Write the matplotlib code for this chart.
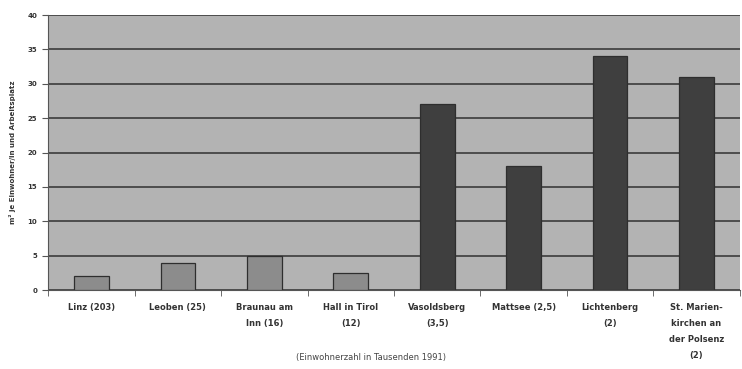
import matplotlib
matplotlib.use("Agg")
import matplotlib.pyplot as plt
import numpy as np

categories = ["Linz (203)", "Leoben (25)", "Braunau am\nInn (16)", "Hall in Tirol\n(12)",
              "Vasoldsberg\n(3,5)", "Mattsee (2,5)", "Lichtenberg\n(2)",
              "St. Marien-\nkirchen an\nder Polsenz\n(2)"]
values = [2, 4, 5, 2.5, 27, 18, 34, 31]
groups = ["urban", "urban", "urban", "urban", "rural", "rural", "rural", "rural"]
y_ticks = [0, 5, 10, 15, 20, 25, 30, 35, 40]

fill = {"urban": "#8c8c8c", "rural": "#3f3f3f"}

fig = plt.figure(figsize=(7.42, 3.69), dpi=100)
ax = fig.add_axes([0.065, 0.214, 0.932, 0.745])
ax.set_facecolor("#b3b3b3")

x = np.arange(len(categories))
ax.bar(x, values, width=0.4, color=[fill[g] for g in groups],
       edgecolor="#2e2e2e", linewidth=0.9, zorder=3)

ax.set_ylim(0, 40)
ax.set_xlim(-0.5, len(categories) - 0.5)
ax.set_yticks(y_ticks)
ax.set_yticklabels([str(t) for t in y_ticks], fontsize=5, fontweight="bold", color="#333333")
ax.yaxis.grid(True, color="#4d4d4d", linewidth=1.4, zorder=1)
ax.set_axisbelow(True)

ax.set_xticks(x)
ax.set_xticklabels(categories, fontsize=6, fontweight="bold", color="#333333",
                   linespacing=2.0)
ax.tick_params(axis="x", length=0, pad=9)
ax.set_xticks(np.arange(len(categories) + 1) - 0.5, minor=True)
ax.tick_params(axis="x", which="minor", length=4, color="#555555")
ax.tick_params(axis="y", length=4, color="#555555", pad=4)

for side in ("top", "right"):
    ax.spines[side].set_visible(False)
ax.spines["left"].set_color("#555555")
ax.spines["bottom"].set_color("#555555")

ax.set_ylabel("m² je Einwohner/in und Arbeitsplatz", fontsize=5, fontweight="bold",
              color="#333333", labelpad=8)
fig.text(0.5, 0.025, "(Einwohnerzahl in Tausenden 1991)", ha="center", fontsize=6,
         color="#444444")

fig.savefig("out.png", dpi=100)
